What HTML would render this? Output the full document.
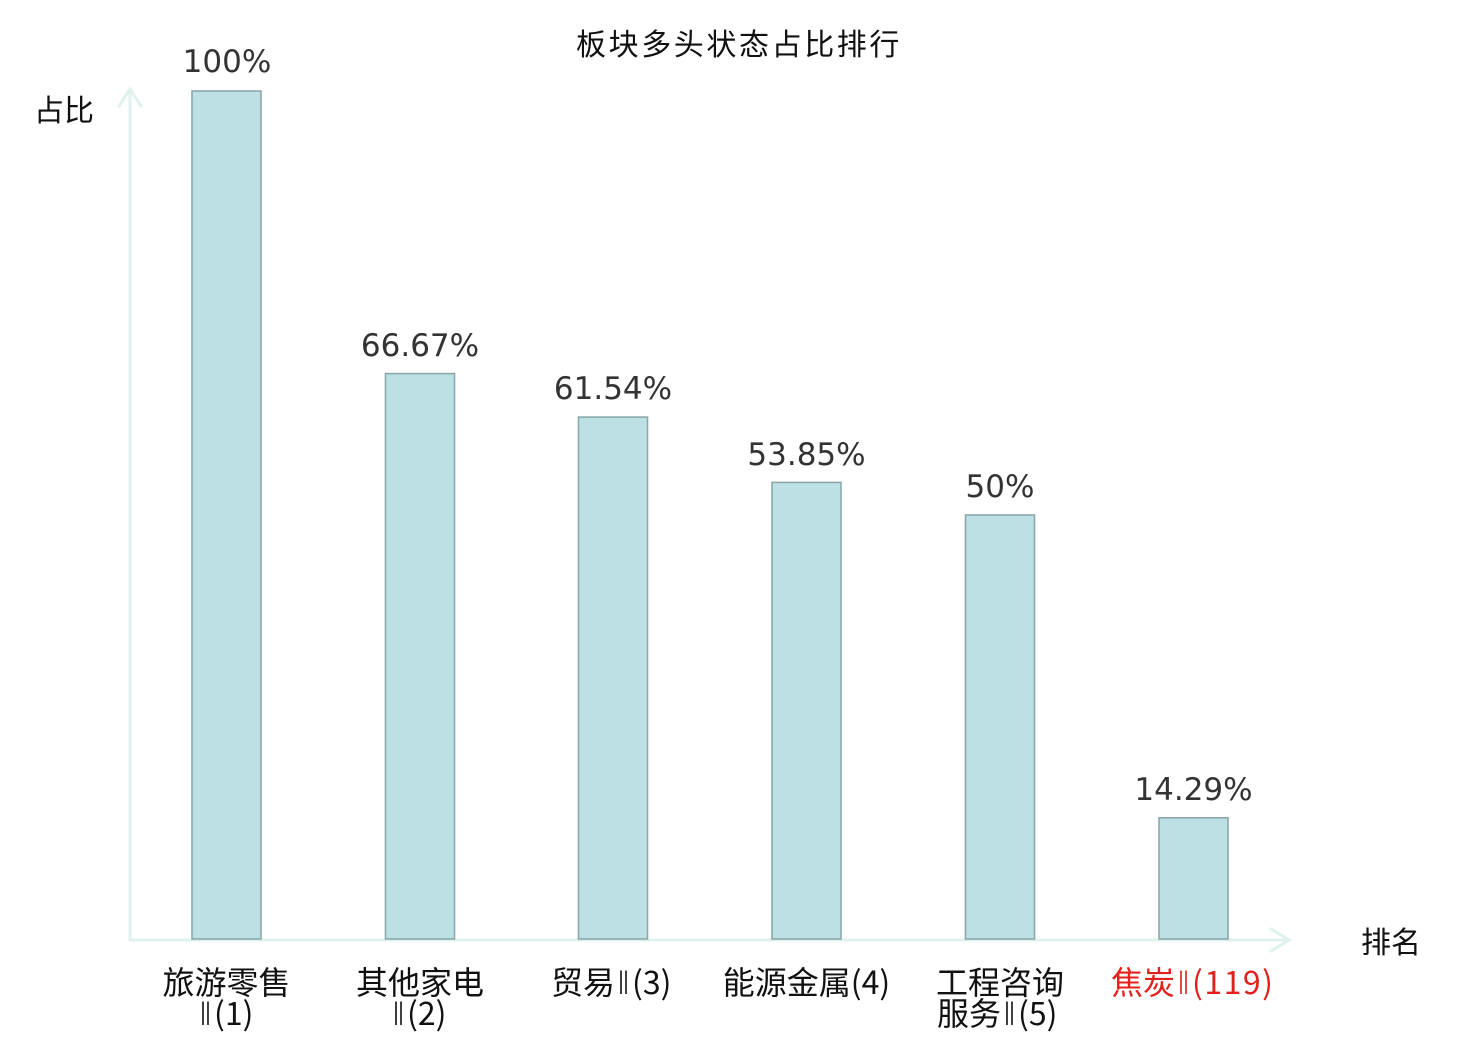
<!DOCTYPE html>
<html>
<head>
<meta charset="utf-8">
<style>
  html, body { margin:0; padding:0; background:#fff; }
  svg { display:block; }
  .cjk { font-family: "Liberation Sans", "Noto Sans CJK SC", sans-serif; }
  .nc { font-family: "Noto Sans CJK SC", sans-serif; }
  .val { font-family: "DejaVu Sans", "Liberation Sans", sans-serif; font-size:31px; fill:#333; }
</style>
</head>
<body>
<svg width="1480" height="1040" viewBox="0 0 1480 1040" xmlns="http://www.w3.org/2000/svg">
  <rect x="0" y="0" width="1480" height="1040" fill="#fff"/>

  <!-- title -->
  <text x="739" y="55" text-anchor="middle" class="cjk" font-size="30" letter-spacing="2.6" fill="#111">板块多头状态占比排行</text>

  <!-- axes -->
  <g stroke="#dff2ef" stroke-width="3" fill="none" stroke-linecap="round">
    <line x1="130" y1="940" x2="130" y2="90"/>
    <line x1="130" y1="940" x2="1289" y2="940"/>
    <polyline points="119,106 130,89 141,106"/>
    <polyline points="1271,929 1289,940 1271,951"/>
  </g>

  <!-- axis labels -->
  <text x="34" y="121" class="cjk" font-size="30" fill="#111">占比</text>
  <text x="1361" y="953" class="cjk" font-size="30" fill="#111">排名</text>

  <!-- bars -->
  <g fill="#bce0e3" stroke="#8aa9ab" stroke-width="1.6">
    <rect x="192" y="91" width="69" height="848"/>
    <rect x="385.5" y="373.6" width="69" height="565.4"/>
    <rect x="578.5" y="417.1" width="69" height="521.9"/>
    <rect x="772" y="482.4" width="69" height="456.6"/>
    <rect x="965.5" y="515" width="69" height="424"/>
    <rect x="1159" y="817.8" width="69" height="121.2"/>
  </g>

  <!-- value labels -->
  <text class="val" x="227" y="72" text-anchor="middle">100%</text>
  <text class="val" x="420" y="356" text-anchor="middle">66.67%</text>
  <text class="val" x="613" y="399" text-anchor="middle">61.54%</text>
  <text class="val" x="806.5" y="465" text-anchor="middle">53.85%</text>
  <text class="val" x="1000" y="497" text-anchor="middle">50%</text>
  <text class="val" x="1193.5" y="800" text-anchor="middle">14.29%</text>

  <!-- category labels -->
  <g class="cjk" font-size="32" fill="#111">
    <text x="226.5" y="994" text-anchor="middle">旅游零售</text>
    <text x="197" y="1025" class="nc"><tspan textLength="17" lengthAdjust="spacingAndGlyphs">Ⅱ</tspan>(1)</text>
    <text x="420" y="994" text-anchor="middle">其他家电</text>
    <text x="390" y="1025" class="nc"><tspan textLength="17" lengthAdjust="spacingAndGlyphs">Ⅱ</tspan>(2)</text>
    <text x="551" y="994">贸易<tspan class="nc" textLength="17" lengthAdjust="spacingAndGlyphs">Ⅱ</tspan><tspan class="nc">(3)</tspan></text>
    <text x="806.5" y="994" text-anchor="middle">能源金属<tspan class="nc">(4)</tspan></text>
    <text x="1000" y="994" text-anchor="middle">工程咨询</text>
    <text x="937" y="1025">服务<tspan class="nc" textLength="17" lengthAdjust="spacingAndGlyphs">Ⅱ</tspan><tspan class="nc">(5)</tspan></text>
    <text x="1111" y="994" fill="#e3201b">焦炭<tspan class="nc" textLength="17" lengthAdjust="spacingAndGlyphs">Ⅱ</tspan><tspan class="nc" letter-spacing="1.5">(119)</tspan></text>
  </g>
</svg>
</body>
</html>
